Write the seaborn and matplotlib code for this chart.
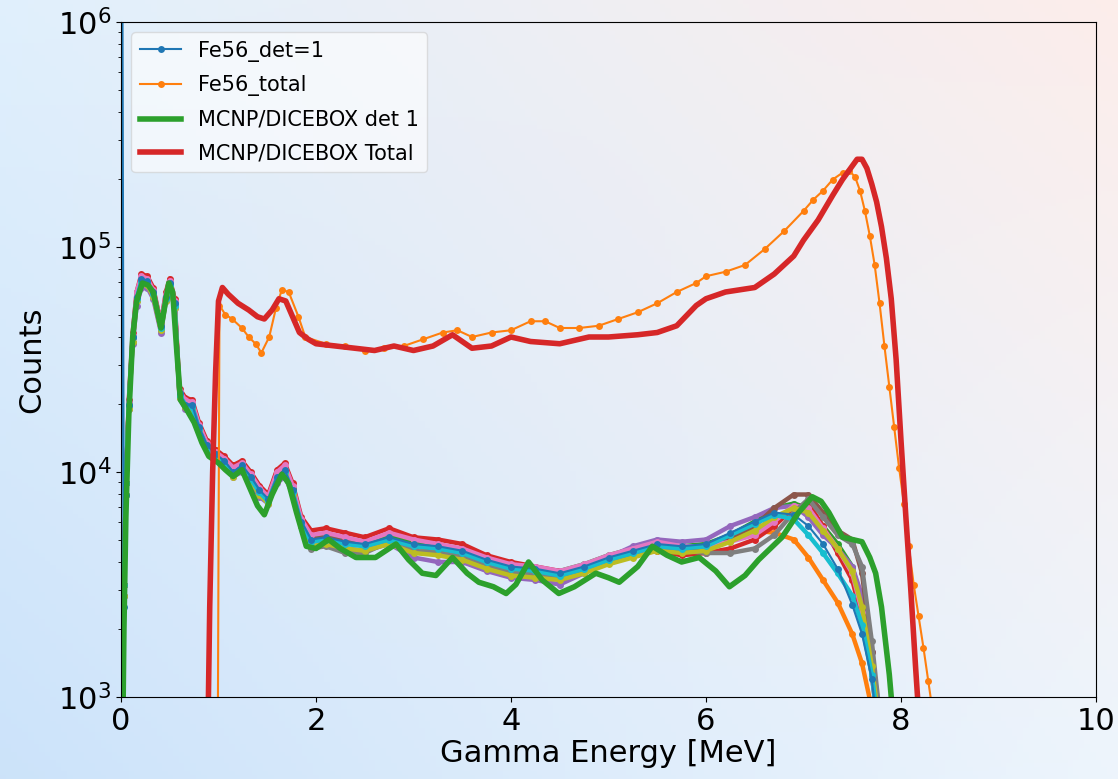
import numpy as np
import pandas as pd
import matplotlib
matplotlib.use("Agg")
import matplotlib.pyplot as plt
import seaborn as sns

# energies [MeV] of the measured detector spectra
E_det = [0.00, 0.01, 0.03, 0.05, 0.08, 0.12, 0.16, 0.21, 0.27, 0.33,
         0.41, 0.46, 0.50, 0.55, 0.60, 0.66, 0.73, 0.80, 0.88, 0.97,
         1.06, 1.15, 1.24, 1.33, 1.42, 1.51, 1.60, 1.68, 1.76, 1.85,
         1.95, 2.10, 2.30, 2.50, 2.75, 3.00, 3.25, 3.50, 3.75, 4.00,
         4.25, 4.50, 4.75, 5.00, 5.25, 5.50, 5.75, 6.00, 6.25, 6.50,
         6.70, 6.90, 7.05, 7.20, 7.35, 7.50, 7.60, 7.70, 7.80]

# log10(counts) per detector
det1 = [2.5, 7.0, 3.4, 3.9, 4.3, 4.6, 4.78, 4.86, 4.85, 4.80,
        4.65, 4.78, 4.84, 4.75, 4.35, 4.30, 4.30, 4.20, 4.12, 4.08,
        4.05, 4.00, 4.03, 3.98, 3.92, 3.88, 3.98, 4.01, 3.92, 3.78,
        3.70, 3.71, 3.69, 3.68, 3.71, 3.68, 3.67, 3.65, 3.61, 3.58,
        3.57, 3.55, 3.58, 3.62, 3.65, 3.68, 3.67, 3.68, 3.73, 3.78,
        3.82, 3.81, 3.76, 3.68, 3.57, 3.41, 3.28, 3.08, 2.70]
det2 = [2.5, 2.9, 3.5, 3.95, 4.3, 4.6, 4.77, 4.85, 4.84, 4.79,
        4.64, 4.77, 4.83, 4.74, 4.34, 4.30, 4.29, 4.19, 4.12, 4.08,
        4.04, 4.00, 4.02, 3.97, 3.91, 3.88, 3.97, 4.00, 3.91, 3.77,
        3.69, 3.70, 3.68, 3.68, 3.70, 3.67, 3.65, 3.63, 3.59, 3.56,
        3.55, 3.54, 3.57, 3.61, 3.64, 3.67, 3.66, 3.67, 3.72, 3.74,
        3.73, 3.70, 3.62, 3.52, 3.42, 3.28, 3.15, 2.95, 2.60]
det3 = [2.5, 2.9, 3.5, 3.95, 4.3, 4.6, 4.78, 4.86, 4.85, 4.80,
        4.65, 4.78, 4.84, 4.75, 4.35, 4.31, 4.30, 4.21, 4.13, 4.08,
        4.05, 4.01, 4.03, 3.99, 3.92, 3.89, 3.99, 4.02, 3.93, 3.78,
        3.71, 3.72, 3.70, 3.68, 3.72, 3.69, 3.67, 3.65, 3.62, 3.58,
        3.57, 3.56, 3.59, 3.63, 3.66, 3.68, 3.67, 3.68, 3.72, 3.78,
        3.84, 3.86, 3.84, 3.76, 3.68, 3.58, 3.42, 3.15, 2.80]
det4 = [2.5, 2.9, 3.5, 3.95, 4.32, 4.62, 4.80, 4.88, 4.87, 4.82,
        4.66, 4.80, 4.86, 4.77, 4.37, 4.33, 4.32, 4.22, 4.14, 4.10,
        4.07, 4.03, 4.05, 4.00, 3.94, 3.90, 4.01, 4.04, 3.95, 3.80,
        3.74, 3.75, 3.73, 3.71, 3.75, 3.71, 3.70, 3.68, 3.63, 3.60,
        3.58, 3.56, 3.57, 3.60, 3.63, 3.65, 3.63, 3.64, 3.66, 3.70,
        3.76, 3.84, 3.86, 3.76, 3.64, 3.52, 3.35, 3.10, 2.75]
det5 = [2.5, 2.9, 3.45, 3.9, 4.28, 4.57, 4.74, 4.82, 4.82, 4.77,
        4.62, 4.76, 4.82, 4.73, 4.33, 4.28, 4.28, 4.18, 4.10, 4.06,
        4.03, 3.98, 4.00, 3.95, 3.89, 3.86, 3.95, 3.98, 3.90, 3.76,
        3.67, 3.68, 3.66, 3.65, 3.68, 3.62, 3.60, 3.60, 3.56, 3.53,
        3.52, 3.50, 3.55, 3.62, 3.67, 3.70, 3.69, 3.70, 3.76, 3.80,
        3.84, 3.85, 3.80, 3.72, 3.66, 3.58, 3.45, 3.20, 2.85]
det6 = [2.5, 2.9, 3.5, 3.95, 4.3, 4.6, 4.78, 4.86, 4.85, 4.80,
        4.65, 4.78, 4.84, 4.75, 4.35, 4.30, 4.30, 4.20, 4.12, 4.08,
        4.05, 4.00, 4.03, 3.98, 3.92, 3.88, 3.98, 4.01, 3.92, 3.78,
        3.70, 3.71, 3.69, 3.67, 3.70, 3.67, 3.66, 3.64, 3.60, 3.57,
        3.56, 3.54, 3.57, 3.61, 3.64, 3.67, 3.66, 3.66, 3.70, 3.76,
        3.84, 3.90, 3.90, 3.82, 3.74, 3.70, 3.55, 3.20, 2.80]
det7 = [2.5, 2.9, 3.5, 3.95, 4.31, 4.61, 4.80, 4.87, 4.86, 4.81,
        4.66, 4.79, 4.85, 4.76, 4.36, 4.32, 4.31, 4.21, 4.13, 4.09,
        4.06, 4.02, 4.04, 3.99, 3.93, 3.89, 4.00, 4.03, 3.94, 3.79,
        3.72, 3.73, 3.71, 3.69, 3.73, 3.70, 3.68, 3.66, 3.62, 3.59,
        3.58, 3.56, 3.59, 3.63, 3.66, 3.69, 3.67, 3.67, 3.69, 3.72,
        3.78, 3.85, 3.84, 3.75, 3.66, 3.55, 3.38, 3.12, 2.75]
det8 = [2.5, 2.9, 3.45, 3.9, 4.28, 4.58, 4.76, 4.84, 4.84, 4.79,
        4.63, 4.77, 4.83, 4.74, 4.34, 4.29, 4.29, 4.19, 4.11, 4.07,
        4.04, 3.99, 4.02, 3.97, 3.91, 3.87, 3.97, 4.00, 3.91, 3.76,
        3.66, 3.67, 3.64, 3.64, 3.69, 3.65, 3.64, 3.62, 3.59, 3.55,
        3.54, 3.53, 3.56, 3.60, 3.63, 3.66, 3.65, 3.64, 3.64, 3.66,
        3.72, 3.82, 3.88, 3.80, 3.72, 3.68, 3.58, 3.25, 2.85]
det9 = [2.5, 2.9, 3.45, 3.9, 4.28, 4.58, 4.76, 4.84, 4.83, 4.78,
        4.63, 4.76, 4.82, 4.73, 4.33, 4.29, 4.28, 4.18, 4.10, 4.06,
        4.03, 3.98, 4.01, 3.96, 3.90, 3.86, 3.96, 3.99, 3.90, 3.76,
        3.67, 3.68, 3.66, 3.65, 3.68, 3.64, 3.63, 3.61, 3.57, 3.54,
        3.53, 3.52, 3.55, 3.59, 3.62, 3.65, 3.64, 3.65, 3.69, 3.74,
        3.80, 3.84, 3.82, 3.74, 3.66, 3.56, 3.40, 3.14, 2.80]
det10 = [2.5, 2.9, 3.5, 3.95, 4.3, 4.6, 4.77, 4.85, 4.84, 4.79,
         4.64, 4.77, 4.83, 4.74, 4.34, 4.30, 4.29, 4.19, 4.11, 4.07,
         4.04, 3.99, 4.02, 3.97, 3.91, 3.87, 3.97, 4.00, 3.91, 3.77,
         3.69, 3.70, 3.68, 3.67, 3.70, 3.67, 3.66, 3.64, 3.60, 3.57,
         3.56, 3.54, 3.57, 3.61, 3.64, 3.67, 3.66, 3.67, 3.72, 3.77,
         3.81, 3.79, 3.72, 3.64, 3.55, 3.45, 3.32, 3.10, 2.75]

# measured total (sum of detectors)
E_tot = [0.99, 1.01, 1.07, 1.14, 1.24, 1.31, 1.38, 1.44, 1.52, 1.59,
         1.65, 1.72, 1.82, 1.89, 2.10, 2.30, 2.50, 2.70, 2.90, 3.10,
         3.30, 3.45, 3.60, 3.80, 4.00, 4.20, 4.35, 4.50, 4.70, 4.90,
         5.10, 5.30, 5.50, 5.70, 5.90, 6.00, 6.20, 6.40, 6.60, 6.80,
         7.00, 7.10, 7.20, 7.30, 7.40, 7.47, 7.53, 7.58, 7.63, 7.68,
         7.73, 7.78, 7.83, 7.88, 7.93, 7.98, 8.03, 8.08, 8.13, 8.18,
         8.23, 8.28, 8.33]
tot = [2.5, 4.74, 4.70, 4.68, 4.64, 4.60, 4.57, 4.53, 4.60, 4.73,
       4.81, 4.80, 4.69, 4.60, 4.57, 4.56, 4.54, 4.55, 4.56, 4.59,
       4.62, 4.63, 4.60, 4.62, 4.63, 4.67, 4.67, 4.64, 4.64, 4.65,
       4.68, 4.71, 4.75, 4.80, 4.84, 4.87, 4.89, 4.92, 4.99, 5.07,
       5.16, 5.21, 5.25, 5.30, 5.33, 5.34, 5.31, 5.25, 5.16, 5.05,
       4.92, 4.75, 4.56, 4.38, 4.20, 4.02, 3.86, 3.67, 3.50, 3.36,
       3.22, 3.07, 2.92]

# MCNP/DICEBOX simulation, detector 1
E_mc1 = [0.01, 0.03, 0.05, 0.08, 0.12, 0.16, 0.22, 0.28, 0.33, 0.38,
         0.41, 0.45, 0.49, 0.53, 0.57, 0.61, 0.67, 0.75, 0.83, 0.90,
         1.00, 1.07, 1.15, 1.24, 1.32, 1.40, 1.47, 1.55, 1.65, 1.72,
         1.80, 1.90, 2.00, 2.13, 2.25, 2.41, 2.61, 2.82, 2.95, 3.09,
         3.23, 3.40, 3.55, 3.67, 3.82, 3.95, 4.05, 4.18, 4.32, 4.49,
         4.65, 4.87, 5.00, 5.11, 5.30, 5.45, 5.60, 5.75, 5.93, 6.10,
         6.24, 6.40, 6.54, 6.78, 6.95, 7.09, 7.18, 7.26, 7.40, 7.50,
         7.60, 7.68, 7.74, 7.80, 7.84, 7.88, 7.92]
mc1 = [2.5, 3.3, 3.8, 4.25, 4.6, 4.76, 4.84, 4.83, 4.80, 4.70,
       4.64, 4.74, 4.84, 4.80, 4.55, 4.32, 4.28, 4.22, 4.13, 4.07,
       4.04, 4.01, 3.98, 4.01, 3.93, 3.85, 3.81, 3.90, 3.99, 3.95,
       3.82, 3.67, 3.66, 3.70, 3.66, 3.62, 3.62, 3.68, 3.61, 3.55,
       3.54, 3.62, 3.55, 3.51, 3.49, 3.46, 3.50, 3.60, 3.52, 3.46,
       3.49, 3.55, 3.53, 3.51, 3.58, 3.67, 3.63, 3.60, 3.62, 3.56,
       3.49, 3.54, 3.61, 3.71, 3.82, 3.89, 3.87, 3.82, 3.71, 3.70,
       3.69, 3.62, 3.55, 3.40, 3.25, 3.10, 2.90]

# MCNP/DICEBOX simulation, total
E_mct = [0.88, 0.91, 0.94, 0.97, 1.00, 1.04, 1.10, 1.20, 1.31, 1.40,
         1.47, 1.55, 1.62, 1.69, 1.76, 1.83, 1.92, 2.00, 2.20, 2.40,
         2.60, 2.80, 3.00, 3.20, 3.40, 3.60, 3.80, 4.00, 4.20, 4.50,
         4.80, 5.00, 5.30, 5.50, 5.70, 5.90, 6.00, 6.20, 6.50, 6.70,
         6.90, 7.00, 7.15, 7.30, 7.40, 7.50, 7.55, 7.60, 7.65, 7.70,
         7.75, 7.80, 7.85, 7.90, 7.95, 8.00, 8.05, 8.10, 8.15, 8.20]
mct = [2.5, 3.4, 4.0, 4.44, 4.76, 4.82, 4.79, 4.75, 4.72, 4.69,
       4.68, 4.72, 4.77, 4.76, 4.69, 4.62, 4.59, 4.57, 4.56, 4.55,
       4.54, 4.56, 4.54, 4.56, 4.61, 4.55, 4.56, 4.60, 4.58, 4.57,
       4.60, 4.60, 4.61, 4.62, 4.65, 4.74, 4.77, 4.80, 4.82, 4.88,
       4.96, 5.03, 5.12, 5.23, 5.30, 5.36, 5.39, 5.39, 5.35, 5.28,
       5.20, 5.09, 4.95, 4.77, 4.50, 4.14, 3.80, 3.48, 3.13, 2.80]

det_sets = [det2, det3, det4, det5, det6, det7, det8, det9, det10]
det_colors = ["#ff7f0e", "#2ca02c", "#d62728", "#9467bd", "#8c564b",
              "#e377c2", "#7f7f7f", "#bcbd22", "#17becf"]

fig = plt.figure(figsize=(11.18, 7.79), dpi=100)

# soft gradient behind everything
bg = fig.add_axes([0, 0, 1, 1], zorder=-10)
tl = np.array([0.88, 0.94, 0.99])
tr = np.array([0.99, 0.93, 0.92])
bl = np.array([0.80, 0.89, 0.98])
br = np.array([0.93, 0.96, 0.99])
u = np.linspace(0, 1, 200)[None, :, None]
v = np.linspace(0, 1, 200)[:, None, None]
grad = (1 - v) * ((1 - u) * tl + u * tr) + v * ((1 - u) * bl + u * br)
bg.imshow(grad, aspect="auto", extent=[0, 1, 0, 1])
bg.axis("off")

ax = fig.add_axes([121 / 1118, 82 / 779, 975 / 1118, 675 / 779])
ax.patch.set_alpha(0)

def spec(E, logv):
    return pd.DataFrame({"E": E, "counts": 10 ** np.array(logv)})

mk = dict(marker="o", markersize=5, markeredgewidth=0, linewidth=3.2)

for vals, c in zip(det_sets, det_colors):
    d = spec(E_det, vals)
    sns.lineplot(data=d, x="E", y="counts", color=c, ax=ax, **mk)

d = spec(E_det, det1)
sns.lineplot(data=d, x="E", y="counts", color="#1f77b4", ax=ax,
             label="Fe56_det=1", **mk)
d = spec(E_tot, tot)
sns.lineplot(data=d, x="E", y="counts", color="#ff7f0e", ax=ax,
             label="Fe56_total", marker="o", markersize=5,
             markeredgewidth=0, linewidth=2.0)
d = spec(E_mc1, mc1)
sns.lineplot(data=d, x="E", y="counts", color="#2ca02c", ax=ax,
             label="MCNP/DICEBOX det 1", linewidth=4)
d = spec(E_mct, mct)
sns.lineplot(data=d, x="E", y="counts", color="#d62728", ax=ax,
             label="MCNP/DICEBOX Total", linewidth=4)

ax.set_yscale("log")
ax.set_xlim(0, 10)
ax.set_ylim(1e3, 1e6)
ax.set_xticks([0, 2, 4, 6, 8, 10])
ax.tick_params(labelsize=22)
ax.set_xlabel("Gamma Energy [MeV]", fontsize=22, labelpad=2)
ax.set_ylabel("Counts", fontsize=22, labelpad=8)

# legend handles: thin lines for the measured spectra, as in the original
handles, labels = ax.get_legend_handles_labels()
for h in handles[:2]:
    h.set_linewidth(1.5)
ax.legend(handles, labels, loc="upper left", fontsize=15,
          labelspacing=0.65, framealpha=0.6)

fig.savefig("out.png", dpi=100)
